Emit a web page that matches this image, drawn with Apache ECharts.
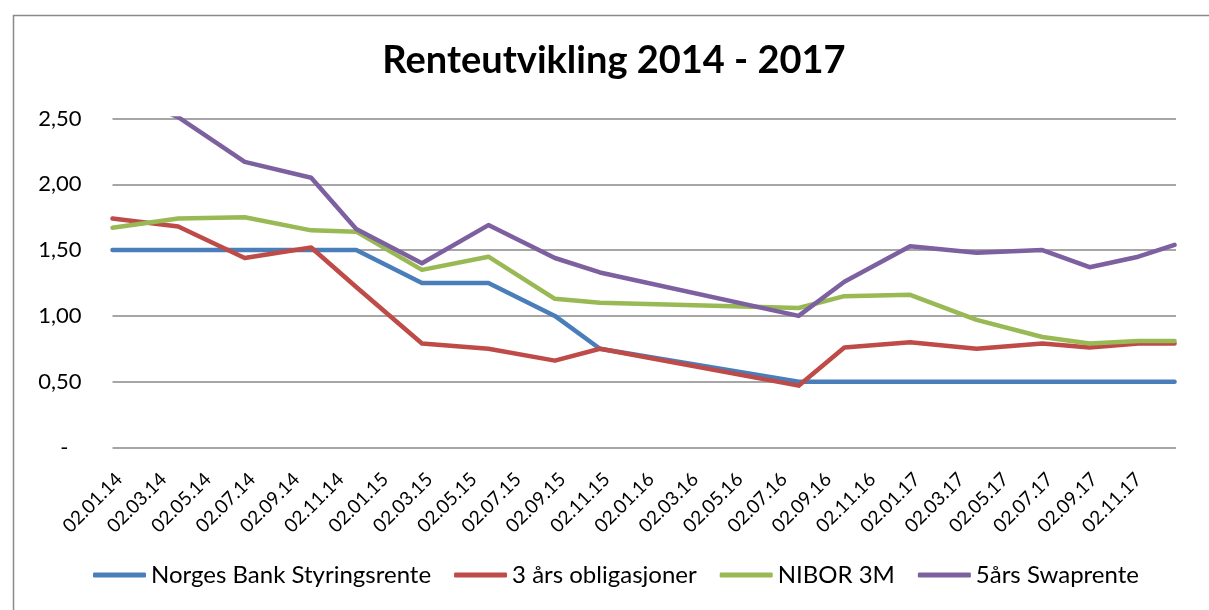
<!DOCTYPE html>
<html>
<head>
<meta charset="utf-8">
<script src="https://cdn.jsdelivr.net/npm/echarts@6/dist/echarts.min.js"></script>
<style>
html,body{margin:0;padding:0;background:#fff;}
#chart{width:1209px;height:610px;}
</style>
</head>
<body>
<div id="chart"></div>
<script>
// ---- data ----
const dates = ['2014-01-02','2014-04-01','2014-07-01','2014-10-01','2014-12-02','2015-03-01','2015-06-01','2015-09-01','2015-11-02','2016-08-01','2016-10-03','2017-01-02','2017-04-02','2017-07-01','2017-09-05','2017-11-11','2017-12-31'];
const norgesBank = [1.50,1.50,1.50,1.50,1.50,1.25,1.25,1.00,0.75,0.50,0.50,0.50,0.50,0.50,0.50,0.50,0.50];
const obligasjoner3 = [1.74,1.68,1.44,1.52,1.22,0.79,0.75,0.66,0.75,0.47,0.76,0.80,0.75,0.79,0.76,0.79,0.79];
const nibor3m = [1.67,1.74,1.75,1.65,1.64,1.35,1.45,1.13,1.10,1.06,1.15,1.16,0.97,0.84,0.79,0.81,0.81];
const swap5 = [2.72,2.51,2.17,2.05,1.66,1.40,1.69,1.44,1.33,1.00,1.26,1.53,1.48,1.50,1.37,1.45,1.54];
const seriesNames = ['Norges Bank Styringsrente','3 års obligasjoner','NIBOR 3M','5års Swaprente'];
const xTickLabels = ['02.01.14','02.03.14','02.05.14','02.07.14','02.09.14','02.11.14','02.01.15','02.03.15','02.05.15','02.07.15','02.09.15','02.11.15','02.01.16','02.03.16','02.05.16','02.07.16','02.09.16','02.11.16','02.01.17','02.03.17','02.05.17','02.07.17','02.09.17','02.11.17'];
const yTickLabels = ['-','0,50','1,00','1,50','2,00','2,50'];
const titleText = 'Renteutvikling 2014 - 2017';

// month position (months since 02.01.2014) of a date
function monthPos(s){
  const [Y,M,D] = s.split('-').map(Number);
  const dim = new Date(Y, M, 0).getDate();
  return (Y-2014)*12 + (M-1) + (D-2)/dim;
}
const xs = dates.map(monthPos);
function pairs(vals){ return vals.map((v,i)=>[xs[i], v]); }

const colors = ['#4A7EBB','#BE4B48','#98B954','#7D60A0'];
const FONT = 'Lato, "Liberation Sans", sans-serif';

const chart = echarts.init(document.getElementById('chart'), null, {renderer:'canvas'});
chart.setOption({
  animation:false,
  color:colors,
  graphic:[{type:'rect', left:11, top:13, shape:{width:1400, height:800}, style:{fill:'none', stroke:'#8a8a8a', lineWidth:1.5}, silent:true}],
  title:{text:titleText, left:614, top:42, textAlign:'center', padding:0,
    textStyle:{fontFamily:FONT, fontWeight:'bold', fontSize:38, color:'#000'}},
  grid:{left:112.5, right:33, top:118.5, bottom:162.5},
  legend:{left:93, top:563, padding:0, itemWidth:53, itemHeight:5, itemGap:23, icon:'roundRect',
    textStyle:{fontFamily:FONT, fontSize:24, color:'#000'},
    data:seriesNames},
  xAxis:{type:'value', min:0, max:48, interval:2,
    axisLine:{show:false}, axisTick:{show:false}, splitLine:{show:false},
    axisLabel:{rotate:45, margin:22, verticalAlign:'top', fontFamily:FONT, fontSize:19, color:'#000',
      showMaxLabel:false,
      formatter:function(v){ const i = Math.round(v/2); return i < xTickLabels.length ? xTickLabels[i] : ''; }}},
  yAxis:{type:'value', min:0, max:2.5, interval:0.5,
    axisLine:{show:false}, axisTick:{show:false},
    splitLine:{lineStyle:{color:'#898989', width:1.5}},
    axisLabel:{margin:31, fontFamily:FONT, fontSize:22, color:'#000',
      formatter:function(v){ const i = Math.round(v/0.5); return i===0 ? '{d|'+yTickLabels[0]+'}' : yTickLabels[i]; },
      rich:{d:{padding:[0,13,0,0], fontFamily:FONT, fontSize:22, color:'#000'}}}},
  series:[norgesBank, obligasjoner3, nibor3m, swap5].map((vals,k)=>({
    name:seriesNames[k], type:'line', data:pairs(vals), symbol:'none', clip:true,
    lineStyle:{width:4.5, color:colors[k], cap:'round', join:'round'},
    itemStyle:{color:colors[k]}
  }))
});
</script>
</body>
</html>
